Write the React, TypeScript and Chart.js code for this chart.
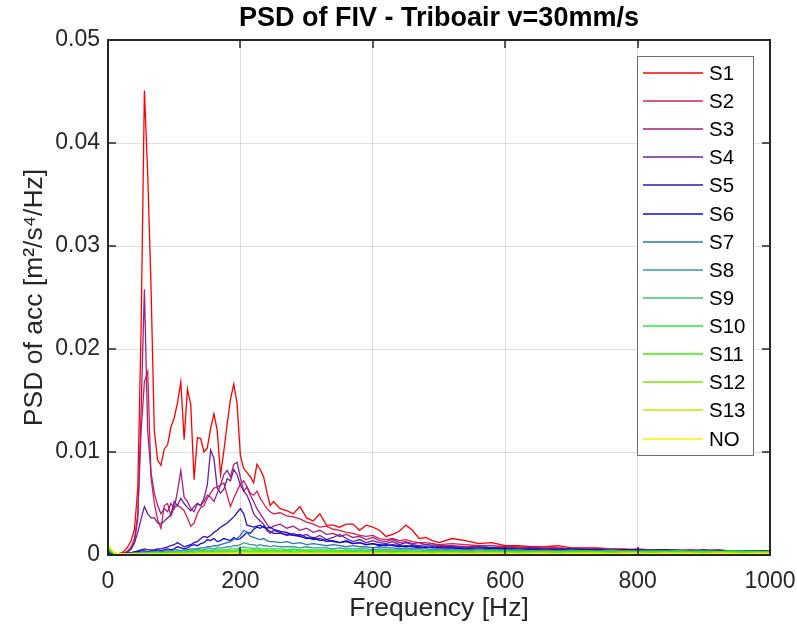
import { useEffect, useRef } from 'react';
import { Chart, registerables } from 'chart.js';
Chart.register(...registerables);

const FONT = "'Liberation Sans', Arial, Helvetica, sans-serif";

// Frequency grid [Hz]
const freq = [
  0, 5, 10, 15, 20, 25, 30, 35, 40, 45, 50, 55, 60, 65, 70, 75, 80, 85, 90, 95,
  100, 105, 110, 115, 120, 125, 130, 135, 140, 145, 150, 155, 160, 165, 170, 175, 180, 185, 190, 195,
  200, 205, 210, 215, 220, 225, 230, 235, 240, 245, 250,
  260, 270, 280, 290, 300, 310, 320, 330, 340, 350, 360, 370, 380, 390, 400, 410, 420, 430, 440, 450,
  460, 470, 480, 490, 500,
  520, 540, 560, 580, 600, 620, 640, 660, 680, 700, 720, 740, 760, 780, 800, 820, 840, 860, 880, 900,
  920, 940, 960, 980, 1000,
];

const s1 = [
  0.0004, 0.0002, 0.0001, 0.0001, 0.0002, 0.0004, 0.0008, 0.0014, 0.0025, 0.0065,
  0.0220, 0.0451, 0.0370, 0.0260, 0.0120, 0.0092, 0.0087, 0.0103, 0.0107, 0.0124,
  0.0133, 0.0148, 0.0168, 0.0112, 0.0161, 0.0146, 0.0073, 0.0114, 0.0113, 0.0100,
  0.0104, 0.0123, 0.0137, 0.0121, 0.0078, 0.0101, 0.0127, 0.0151, 0.0166, 0.0147,
  0.0096, 0.0084, 0.0080, 0.0076, 0.0070, 0.0088, 0.0083, 0.0076, 0.0061, 0.0048,
  0.0052,
  0.0045, 0.0043, 0.0040, 0.0047, 0.0036, 0.0033, 0.0040, 0.0029, 0.0029, 0.0027,
  0.0030, 0.0030, 0.0024, 0.0029, 0.0027, 0.0024, 0.0018, 0.0020, 0.0023, 0.0029,
  0.0024, 0.0016, 0.0017, 0.0014, 0.0012,
  0.0016, 0.0014, 0.0011, 0.0012, 0.0009, 0.0009, 0.0008, 0.0008, 0.0009, 0.0007,
  0.0007, 0.0007, 0.0006, 0.0006, 0.0005, 0.0005, 0.0005, 0.0004, 0.0005, 0.0004,
  0.0005, 0.0004, 0.0004, 0.0004, 0.0004,
];

const s2 = [
  0.0003, 0.0002, 0.0001, 0.0001, 0.0001, 0.0002, 0.0004, 0.0008, 0.0016, 0.0040,
  0.0120, 0.0168, 0.0178, 0.0075, 0.0050, 0.0034, 0.0026, 0.0048, 0.0050, 0.0038,
  0.0046, 0.0048, 0.0046, 0.0043, 0.0036, 0.0028, 0.0031, 0.0040, 0.0046, 0.0048,
  0.0055, 0.0060, 0.0065, 0.0066, 0.0068, 0.0070, 0.0058, 0.0047, 0.0055, 0.0062,
  0.0069, 0.0072, 0.0066, 0.0060, 0.0058, 0.0062, 0.0055, 0.0050, 0.0045, 0.0042,
  0.0040,
  0.0041, 0.0038, 0.0037, 0.0035, 0.0032, 0.0030, 0.0027, 0.0028, 0.0025, 0.0024,
  0.0022, 0.0021, 0.0019, 0.0018, 0.0019, 0.0016, 0.0015, 0.0016, 0.0014, 0.0015,
  0.0013, 0.0012, 0.0012, 0.0011, 0.0010,
  0.0011, 0.0010, 0.0009, 0.0009, 0.0008, 0.0008, 0.0007, 0.0008, 0.0007, 0.0006,
  0.0007, 0.0006, 0.0006, 0.0005, 0.0006, 0.0005, 0.0005, 0.0005, 0.0004, 0.0005,
  0.0004, 0.0004, 0.0004, 0.0004, 0.0004,
];

const s3 = [
  0.0003, 0.0002, 0.0001, 0.0001, 0.0001, 0.0002, 0.0003, 0.0006, 0.0012, 0.0035,
  0.0140, 0.0258, 0.0120, 0.0080, 0.0060, 0.0048, 0.0040, 0.0045, 0.0042, 0.0050,
  0.0045, 0.0062, 0.0082, 0.0056, 0.0052, 0.0045, 0.0042, 0.0050, 0.0048, 0.0052,
  0.0058, 0.0056, 0.0052, 0.0060, 0.0068, 0.0078, 0.0082, 0.0076, 0.0088, 0.0090,
  0.0075, 0.0062, 0.0066, 0.0058, 0.0052, 0.0045, 0.0040, 0.0035, 0.0030, 0.0026,
  0.0028,
  0.0030, 0.0026, 0.0028, 0.0024, 0.0026, 0.0022, 0.0024, 0.0020, 0.0021, 0.0018,
  0.0020, 0.0017, 0.0018, 0.0015, 0.0017, 0.0014, 0.0013, 0.0015, 0.0012, 0.0013,
  0.0011, 0.0012, 0.0010, 0.0011, 0.0009,
  0.0009, 0.0008, 0.0008, 0.0007, 0.0008, 0.0007, 0.0007, 0.0006, 0.0007, 0.0006,
  0.0006, 0.0005, 0.0006, 0.0005, 0.0005, 0.0005, 0.0005, 0.0004, 0.0005, 0.0004,
  0.0004, 0.0004, 0.0004, 0.0004, 0.0004,
];

const s4 = [
  0.0002, 0.0001, 0.0001, 0.0001, 0.0001, 0.0002, 0.0003, 0.0006, 0.0012, 0.0022,
  0.0035, 0.0047, 0.0040, 0.0036, 0.0036, 0.0031, 0.0030, 0.0033, 0.0036, 0.0039,
  0.0052, 0.0048, 0.0055, 0.0050, 0.0046, 0.0043, 0.0047, 0.0050, 0.0048, 0.0055,
  0.0068, 0.0102, 0.0094, 0.0065, 0.0060, 0.0064, 0.0074, 0.0072, 0.0083, 0.0078,
  0.0068, 0.0062, 0.0058, 0.0050, 0.0040, 0.0036, 0.0033, 0.0030, 0.0024, 0.0021,
  0.0024,
  0.0022, 0.0019, 0.0021, 0.0018, 0.0020, 0.0016, 0.0019, 0.0015, 0.0017, 0.0020,
  0.0016, 0.0013, 0.0015, 0.0012, 0.0014, 0.0012, 0.0011, 0.0013, 0.0010, 0.0012,
  0.0010, 0.0009, 0.0010, 0.0009, 0.0008,
  0.0008, 0.0007, 0.0008, 0.0007, 0.0007, 0.0006, 0.0007, 0.0006, 0.0006, 0.0006,
  0.0005, 0.0006, 0.0005, 0.0005, 0.0005, 0.0005, 0.0004, 0.0005, 0.0004, 0.0004,
  0.0005, 0.0004, 0.0004, 0.0004, 0.0004,
];

const s5 = [
  0.0002, 0.0001, 0.0001, 0.0001, 0.0001, 0.0001, 0.0001, 0.0002, 0.0003, 0.0004,
  0.0005, 0.0006, 0.0005, 0.0005, 0.0005, 0.0006, 0.0006, 0.0007, 0.0008, 0.0009,
  0.0010, 0.0012, 0.0010, 0.0008, 0.0009, 0.0010, 0.0012, 0.0013, 0.0016, 0.0018,
  0.0017, 0.0019, 0.0022, 0.0024, 0.0027, 0.0029, 0.0031, 0.0034, 0.0037, 0.0041,
  0.0045, 0.0040, 0.0029, 0.0028, 0.0027, 0.0028, 0.0029, 0.0027, 0.0025, 0.0023,
  0.0021,
  0.0021, 0.0020, 0.0019, 0.0020, 0.0017, 0.0015, 0.0016, 0.0013, 0.0014, 0.0012,
  0.0013, 0.0011, 0.0012, 0.0010, 0.0011, 0.0010, 0.0009, 0.0010, 0.0009, 0.0008,
  0.0009, 0.0008, 0.0007, 0.0008, 0.0007,
  0.0007, 0.0006, 0.0007, 0.0006, 0.0006, 0.0006, 0.0005, 0.0006, 0.0005, 0.0005,
  0.0005, 0.0005, 0.0004, 0.0005, 0.0004, 0.0004, 0.0005, 0.0004, 0.0004, 0.0004,
  0.0004, 0.0004, 0.0003, 0.0004, 0.0004,
];

const s6 = [
  0.0003, 0.0002, 0.0001, 0.0001, 0.0001, 0.0001, 0.0002, 0.0002, 0.0003, 0.0003,
  0.0004, 0.0004, 0.0003, 0.0004, 0.0004, 0.0005, 0.0004, 0.0005, 0.0006, 0.0005,
  0.0006, 0.0008, 0.0007, 0.0006, 0.0007, 0.0009, 0.0010, 0.0009, 0.0011, 0.0012,
  0.0015, 0.0014, 0.0016, 0.0013, 0.0014, 0.0016, 0.0015, 0.0014, 0.0017, 0.0015,
  0.0016, 0.0019, 0.0022, 0.0021, 0.0025, 0.0027, 0.0026, 0.0028, 0.0026, 0.0027,
  0.0025,
  0.0023, 0.0022, 0.0019, 0.0018, 0.0016, 0.0017, 0.0014, 0.0015, 0.0013, 0.0012,
  0.0014, 0.0011, 0.0012, 0.0010, 0.0011, 0.0009, 0.0010, 0.0009, 0.0008, 0.0009,
  0.0008, 0.0007, 0.0008, 0.0007, 0.0007,
  0.0007, 0.0006, 0.0006, 0.0007, 0.0006, 0.0005, 0.0006, 0.0005, 0.0005, 0.0006,
  0.0005, 0.0005, 0.0004, 0.0005, 0.0005, 0.0004, 0.0005, 0.0004, 0.0004, 0.0005,
  0.0004, 0.0004, 0.0004, 0.0004, 0.0004,
];

const s7 = [
  0.0004, 0.0002, 0.0001, 0.0001, 0.0001, 0.0001, 0.0001, 0.0002, 0.0002, 0.0002,
  0.0003, 0.0003, 0.0003, 0.0003, 0.0003, 0.0004, 0.0003, 0.0004, 0.0004, 0.0004,
  0.0005, 0.0005, 0.0004, 0.0005, 0.0005, 0.0006, 0.0006, 0.0006, 0.0007, 0.0007,
  0.0008, 0.0008, 0.0009, 0.0009, 0.0010, 0.0011, 0.0012, 0.0013, 0.0015, 0.0016,
  0.0019, 0.0024, 0.0022, 0.0018, 0.0017, 0.0016, 0.0015, 0.0016, 0.0014, 0.0013,
  0.0013,
  0.0012, 0.0013, 0.0011, 0.0012, 0.0010, 0.0011, 0.0010, 0.0009, 0.0010, 0.0009,
  0.0008, 0.0009, 0.0008, 0.0008, 0.0007, 0.0008, 0.0007, 0.0007, 0.0006, 0.0007,
  0.0006, 0.0006, 0.0006, 0.0005, 0.0006,
  0.0005, 0.0005, 0.0006, 0.0005, 0.0005, 0.0005, 0.0004, 0.0005, 0.0004, 0.0005,
  0.0004, 0.0004, 0.0005, 0.0004, 0.0004, 0.0004, 0.0004, 0.0004, 0.0003, 0.0004,
  0.0004, 0.0003, 0.0004, 0.0004, 0.0003,
];

const s8 = [
  0.0005, 0.0003, 0.0001, 0.0001, 0.0001, 0.0001, 0.0001, 0.0001, 0.0002, 0.0002,
  0.0002, 0.0002, 0.0002, 0.0002, 0.0003, 0.0003, 0.0003, 0.0003, 0.0003, 0.0003,
  0.0003, 0.0004, 0.0004, 0.0004, 0.0004, 0.0004, 0.0005, 0.0005, 0.0005, 0.0005,
  0.0006, 0.0006, 0.0006, 0.0007, 0.0007, 0.0007, 0.0008, 0.0008, 0.0009, 0.0009,
  0.0010, 0.0012, 0.0011, 0.0010, 0.0010, 0.0009, 0.0010, 0.0009, 0.0009, 0.0008,
  0.0009,
  0.0008, 0.0008, 0.0008, 0.0007, 0.0008, 0.0007, 0.0007, 0.0007, 0.0006, 0.0007,
  0.0006, 0.0006, 0.0006, 0.0006, 0.0005, 0.0006, 0.0005, 0.0005, 0.0005, 0.0005,
  0.0005, 0.0005, 0.0004, 0.0005, 0.0004,
  0.0005, 0.0004, 0.0005, 0.0004, 0.0004, 0.0005, 0.0004, 0.0004, 0.0004, 0.0004,
  0.0004, 0.0004, 0.0004, 0.0004, 0.0004, 0.0004, 0.0003, 0.0004, 0.0004, 0.0004,
  0.0003, 0.0004, 0.0004, 0.0003, 0.0004,
];

const s9 = [
  0.0006, 0.0003, 0.0001, 0.0001, 0.0001, 0.0001, 0.0001, 0.0001, 0.0001, 0.0001,
  0.0002, 0.0002, 0.0002, 0.0002, 0.0002, 0.0002, 0.0002, 0.0002, 0.0003, 0.0003,
  0.0003, 0.0003, 0.0003, 0.0003, 0.0003, 0.0003, 0.0004, 0.0004, 0.0004, 0.0004,
  0.0004, 0.0004, 0.0005, 0.0005, 0.0005, 0.0005, 0.0005, 0.0006, 0.0006, 0.0006,
  0.0007, 0.0008, 0.0007, 0.0007, 0.0006, 0.0007, 0.0006, 0.0006, 0.0006, 0.0006,
  0.0006,
  0.0006, 0.0005, 0.0006, 0.0005, 0.0005, 0.0005, 0.0005, 0.0005, 0.0005, 0.0004,
  0.0005, 0.0004, 0.0005, 0.0004, 0.0004, 0.0004, 0.0004, 0.0004, 0.0004, 0.0004,
  0.0004, 0.0003, 0.0004, 0.0004, 0.0004,
  0.0004, 0.0004, 0.0003, 0.0004, 0.0004, 0.0003, 0.0004, 0.0003, 0.0003, 0.0004,
  0.0003, 0.0003, 0.0004, 0.0003, 0.0003, 0.0003, 0.0004, 0.0003, 0.0003, 0.0003,
  0.0003, 0.0004, 0.0003, 0.0003, 0.0003,
];

const s10 = [
  0.0007, 0.0004, 0.0002, 0.0001, 0.0001, 0.0001, 0.0001, 0.0001, 0.0001, 0.0001,
  0.0001, 0.0001, 0.0001, 0.0002, 0.0002, 0.0002, 0.0002, 0.0002, 0.0002, 0.0002,
  0.0002, 0.0002, 0.0002, 0.0003, 0.0003, 0.0003, 0.0003, 0.0003, 0.0003, 0.0003,
  0.0003, 0.0003, 0.0004, 0.0004, 0.0004, 0.0004, 0.0004, 0.0004, 0.0004, 0.0005,
  0.0005, 0.0005, 0.0005, 0.0005, 0.0005, 0.0005, 0.0005, 0.0004, 0.0005, 0.0004,
  0.0005,
  0.0004, 0.0004, 0.0005, 0.0004, 0.0004, 0.0004, 0.0004, 0.0004, 0.0004, 0.0004,
  0.0004, 0.0003, 0.0004, 0.0004, 0.0003, 0.0004, 0.0003, 0.0003, 0.0004, 0.0003,
  0.0003, 0.0003, 0.0003, 0.0003, 0.0003,
  0.0003, 0.0003, 0.0003, 0.0004, 0.0003, 0.0003, 0.0003, 0.0003, 0.0003, 0.0003,
  0.0004, 0.0003, 0.0003, 0.0003, 0.0003, 0.0003, 0.0003, 0.0004, 0.0003, 0.0003,
  0.0003, 0.0003, 0.0003, 0.0003, 0.0003,
];

const s11 = [
  0.0008, 0.0004, 0.0002, 0.0001, 0.0001, 0.0001, 0.0001, 0.0001, 0.0001, 0.0001,
  0.0001, 0.0001, 0.0001, 0.0001, 0.0002, 0.0002, 0.0002, 0.0002, 0.0002, 0.0002,
  0.0002, 0.0002, 0.0002, 0.0002, 0.0002, 0.0002, 0.0003, 0.0002, 0.0003, 0.0003,
  0.0003, 0.0003, 0.0003, 0.0003, 0.0003, 0.0003, 0.0003, 0.0004, 0.0003, 0.0004,
  0.0004, 0.0004, 0.0004, 0.0003, 0.0004, 0.0004, 0.0004, 0.0003, 0.0004, 0.0004,
  0.0004,
  0.0003, 0.0004, 0.0003, 0.0003, 0.0004, 0.0003, 0.0003, 0.0003, 0.0003, 0.0003,
  0.0003, 0.0003, 0.0003, 0.0003, 0.0003, 0.0003, 0.0003, 0.0003, 0.0003, 0.0003,
  0.0002, 0.0003, 0.0003, 0.0003, 0.0003,
  0.0003, 0.0003, 0.0002, 0.0003, 0.0003, 0.0003, 0.0003, 0.0002, 0.0003, 0.0003,
  0.0003, 0.0003, 0.0002, 0.0003, 0.0003, 0.0003, 0.0003, 0.0002, 0.0003, 0.0003,
  0.0003, 0.0003, 0.0002, 0.0003, 0.0003,
];

const s12 = [
  0.0009, 0.0005, 0.0002, 0.0001, 0.0001, 0.0001, 0.0001, 0.0001, 0.0001, 0.0001,
  0.0001, 0.0001, 0.0001, 0.0001, 0.0001, 0.0001, 0.0001, 0.0002, 0.0001, 0.0002,
  0.0002, 0.0002, 0.0002, 0.0002, 0.0002, 0.0002, 0.0002, 0.0002, 0.0002, 0.0002,
  0.0002, 0.0002, 0.0002, 0.0003, 0.0002, 0.0003, 0.0003, 0.0003, 0.0003, 0.0003,
  0.0003, 0.0003, 0.0003, 0.0003, 0.0003, 0.0003, 0.0003, 0.0003, 0.0003, 0.0003,
  0.0003,
  0.0003, 0.0003, 0.0002, 0.0003, 0.0003, 0.0002, 0.0003, 0.0002, 0.0002, 0.0003,
  0.0002, 0.0002, 0.0002, 0.0002, 0.0003, 0.0002, 0.0002, 0.0002, 0.0002, 0.0002,
  0.0002, 0.0002, 0.0002, 0.0002, 0.0002,
  0.0002, 0.0002, 0.0003, 0.0002, 0.0002, 0.0002, 0.0002, 0.0003, 0.0002, 0.0002,
  0.0002, 0.0002, 0.0002, 0.0003, 0.0002, 0.0002, 0.0002, 0.0002, 0.0002, 0.0002,
  0.0003, 0.0002, 0.0002, 0.0002, 0.0002,
];

const s13 = [
  0.0009, 0.0005, 0.0002, 0.0001, 0.0001, 0.0001, 0.0001, 0.0001, 0.0001, 0.0001,
  0.0001, 0.0001, 0.0001, 0.0001, 0.0001, 0.0001, 0.0001, 0.0001, 0.0001, 0.0001,
  0.0001, 0.0001, 0.0001, 0.0001, 0.0001, 0.0002, 0.0001, 0.0002, 0.0002, 0.0002,
  0.0002, 0.0002, 0.0002, 0.0002, 0.0002, 0.0002, 0.0002, 0.0002, 0.0002, 0.0002,
  0.0002, 0.0002, 0.0002, 0.0002, 0.0002, 0.0002, 0.0002, 0.0002, 0.0002, 0.0002,
  0.0002,
  0.0002, 0.0002, 0.0002, 0.0002, 0.0002, 0.0002, 0.0002, 0.0002, 0.0002, 0.0002,
  0.0002, 0.0002, 0.0002, 0.0002, 0.0002, 0.0002, 0.0002, 0.0001, 0.0002, 0.0002,
  0.0002, 0.0002, 0.0002, 0.0001, 0.0002,
  0.0002, 0.0001, 0.0002, 0.0002, 0.0002, 0.0001, 0.0002, 0.0002, 0.0001, 0.0002,
  0.0002, 0.0002, 0.0001, 0.0002, 0.0002, 0.0001, 0.0002, 0.0002, 0.0002, 0.0001,
  0.0002, 0.0002, 0.0001, 0.0002, 0.0002,
];

const sNO = [
  0.0010, 0.0005, 0.0002, 0.0001, 0.0001, 0.0001, 0.0001, 0.0001, 0.0001, 0.0001,
  0.0001, 0.0001, 0.0001, 0.0001, 0.0001, 0.0001, 0.0001, 0.0001, 0.0001, 0.0001,
  0.0001, 0.0001, 0.0001, 0.0001, 0.0001, 0.0001, 0.0001, 0.0001, 0.0001, 0.0001,
  0.0001, 0.0001, 0.0001, 0.0001, 0.0001, 0.0001, 0.0001, 0.0001, 0.0001, 0.0001,
  0.0001, 0.0001, 0.0001, 0.0001, 0.0001, 0.0001, 0.0001, 0.0001, 0.0001, 0.0001,
  0.0001,
  0.0001, 0.0001, 0.0001, 0.0001, 0.0001, 0.0001, 0.0001, 0.0001, 0.0001, 0.0001,
  0.0001, 0.0001, 0.0001, 0.0001, 0.0001, 0.0001, 0.0001, 0.0001, 0.0001, 0.0001,
  0.0001, 0.0001, 0.0001, 0.0001, 0.0001,
  0.0001, 0.0001, 0.0001, 0.0001, 0.0001, 0.0001, 0.0001, 0.0001, 0.0001, 0.0001,
  0.0001, 0.0001, 0.0001, 0.0001, 0.0001, 0.0001, 0.0001, 0.0001, 0.0001, 0.0001,
  0.0001, 0.0001, 0.0001, 0.0001, 0.0001,
];

const seriesNames = ['S1', 'S2', 'S3', 'S4', 'S5', 'S6', 'S7', 'S8', 'S9', 'S10', 'S11', 'S12', 'S13', 'NO'];
const seriesColors = [
  '#FF0000', '#D81E4E', '#A0207F', '#6A1FA0', '#3412B8', '#0A0AE0', '#2878A8',
  '#35A090', '#40C870', '#22EE40', '#33F000', '#80E000', '#C8E600', '#FFF200',
];
const seriesValues = [s1, s2, s3, s4, s5, s6, s7, s8, s9, s10, s11, s12, s13, sNO];

const xTickLabels = ['0', '200', '400', '600', '800', '1000'];
const yTickLabels = ['0', '0.01', '0.02', '0.03', '0.04', '0.05'];

const AXIS_COLOR = '#262626';

export default function App() {
  const ref = useRef<HTMLCanvasElement>(null);

  useEffect(() => {
    if (!ref.current) return;

    const boxPlugin = {
      id: 'matlabBox',
      afterDatasetsDraw(chart: any) {
        const { ctx, chartArea: a, scales } = chart;
        const xs = scales.x;
        const ys = scales.y;
        ctx.save();
        ctx.strokeStyle = AXIS_COLOR;
        ctx.lineWidth = 1.5;
        ctx.beginPath();
        xs.ticks.forEach((t: any) => {
          const px = Math.round(xs.getPixelForValue(t.value));
          ctx.moveTo(px, a.bottom);
          ctx.lineTo(px, a.bottom - 8);
          ctx.moveTo(px, a.top);
          ctx.lineTo(px, a.top + 8);
        });
        ys.ticks.forEach((t: any) => {
          const py = Math.round(ys.getPixelForValue(t.value));
          ctx.moveTo(a.left, py);
          ctx.lineTo(a.left + 8, py);
          ctx.moveTo(a.right, py);
          ctx.lineTo(a.right - 8, py);
        });
        ctx.stroke();
        ctx.lineWidth = 2;
        ctx.strokeRect(a.left, a.top, a.right - a.left, a.bottom - a.top);

        // legend
        const bw = 116;
        const bh = 399;
        const bx = Math.round(a.right - 17 - bw);
        const by = Math.round(a.top + 16);
        ctx.fillStyle = '#ffffff';
        ctx.fillRect(bx, by, bw, bh);
        ctx.lineWidth = 1;
        ctx.strokeStyle = '#6e6e6e';
        ctx.strokeRect(bx + 0.5, by + 0.5, bw, bh);
        ctx.font = `20.5px ${FONT}`;
        ctx.textBaseline = 'middle';
        ctx.textAlign = 'left';
        chart.data.datasets.forEach((ds: any, i: number) => {
          const y = Math.round(by + 17 + i * 28.12);
          ctx.strokeStyle = ds.borderColor;
          ctx.lineWidth = 1.6;
          ctx.beginPath();
          ctx.moveTo(bx + 6, y);
          ctx.lineTo(bx + 66, y);
          ctx.stroke();
          ctx.fillStyle = '#000000';
          ctx.fillText(ds.label, bx + 72, y + 1);
        });
        ctx.restore();
      },
    };

    const datasets = seriesValues.map((vals, i) => ({
      label: seriesNames[i],
      data: freq.map((f, j) => ({ x: f, y: vals[j] })),
      borderColor: seriesColors[i],
      backgroundColor: seriesColors[i],
      borderWidth: 1.3,
      pointRadius: 0,
      fill: false,
      tension: 0,
      order: seriesValues.length - i,
    }));

    const chart = new Chart(ref.current, {
      type: 'line',
      data: { datasets },
      options: {
        responsive: false,
        maintainAspectRatio: false,
        devicePixelRatio: 1,
        animation: false,
        layout: { padding: { left: 0, right: 27, top: 0, bottom: 0 } },
        plugins: {
          legend: { display: false },
          tooltip: { enabled: false },
          title: {
            display: true,
            fullSize: false,
            text: 'PSD of FIV - Triboair v=30mm/s',
            color: '#000000',
            font: { family: FONT, size: 27, weight: 'bold' },
            padding: { top: 2, bottom: 5.6 },
          },
        },
        scales: {
          x: {
            type: 'linear',
            min: 0,
            max: 1000,
            afterFit: (s: any) => {
              s.height = 77;
              s.paddingLeft = 0;
              s.paddingRight = 0;
            },
            ticks: {
              stepSize: 200,
              color: AXIS_COLOR,
              font: { family: FONT, size: 23 },
              padding: 13,
              maxRotation: 0,
              callback: (_v: any, i: number) => xTickLabels[i],
            },
            grid: { color: 'rgba(38,38,38,0.15)', drawTicks: false, lineWidth: 1 },
            border: { display: false },
            title: {
              display: true,
              text: 'Frequency [Hz]',
              color: AXIS_COLOR,
              font: { family: FONT, size: 26.5 },
              padding: { top: 0, bottom: 7 },
            },
          },
          y: {
            type: 'linear',
            min: 0,
            max: 0.05,
            afterFit: (s: any) => {
              s.width = 108;
              s.paddingTop = 0;
              s.paddingBottom = 0;
            },
            ticks: {
              stepSize: 0.01,
              color: AXIS_COLOR,
              font: { family: FONT, size: 23 },
              padding: 8,
              callback: (_v: any, i: number) => yTickLabels[i],
            },
            grid: { color: 'rgba(38,38,38,0.15)', drawTicks: false, lineWidth: 1 },
            border: { display: false },
            title: {
              display: true,
              text: 'PSD of acc [m²/s⁴/Hz]',
              color: AXIS_COLOR,
              font: { family: FONT, size: 26.5 },
              padding: { top: 19, bottom: 0 },
            },
          },
        },
      },
      plugins: [boxPlugin],
    });

    return () => chart.destroy();
  }, []);

  return (
    <div style={{ position: 'absolute', left: 0, top: 0, width: 797, height: 632, background: '#fff' }}>
      <canvas ref={ref} width={797} height={632} style={{ display: 'block' }} />
    </div>
  );
}
